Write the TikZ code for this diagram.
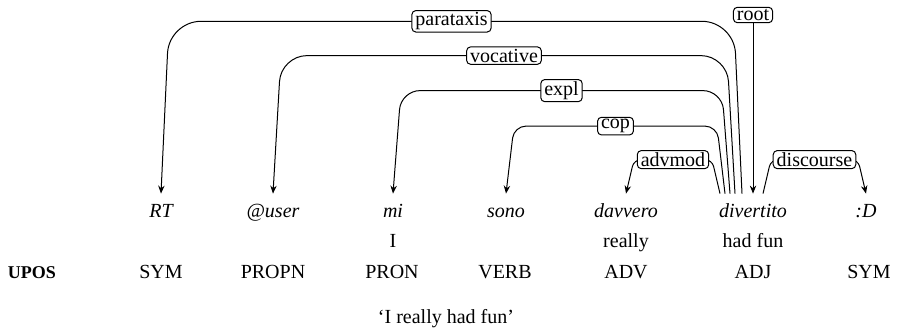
\documentclass[tikz,border=0pt]{standalone}
\usepackage{fontspec}
\setmainfont{Liberation Serif}
\usepackage{tikz}
\usetikzlibrary{calc, arrows.meta}
\tikzstyle{word}=[anchor=base, inner sep=0pt, text height=11.5pt, font=\itshape]
\tikzstyle{gloss}=[anchor=base, inner sep=0pt]
\tikzstyle{dep}=[draw, line width=0.5pt, -{Stealth[length=4pt,width=3.2pt]}]
\tikzstyle{lab}=[draw, fill=white, rounded corners=2pt, inner xsep=1.75pt, inner ysep=1pt, line width=0.5pt]

\begin{document}
\begin{tikzpicture}[x=0.5pt, y=-0.5pt]
		\useasboundingbox (0,0) rectangle (899,333);
		% Draw the words
		\foreach \name / \x / \w in {1/161/RT, 2/273/@user, 3/393/mi, 4/506/sono, 5/626/davvero, 6/753/divertito, 7/866/:D}
		\node[word] (W-\name) at (\x, 217) {\w};

		% Glosses
		\node[gloss] (G-3) at (393, 247) {I};
		\node[gloss] (G-5) at (626, 247) {really};
		\node[gloss] (G-6) at (753, 247) {had fun};

		% Draw the tags
		\node[gloss, font=\fontsize{9}{10}\selectfont\bfseries] (upos) at (32, 278) {UPOS};
		\foreach \name / \x / \t in {1/161/SYM, 2/273/PROPN, 3/392/PRON, 4/505/VERB, 5/626/ADV, 6/753/ADJ, 7/869/SYM}
		\node[gloss] (P-\name) at (\x, 278) {\t};

		% Translation
		\node[gloss] (trans) at (446, 323) {`I really had fun'};

		% Connect the head with its dependents
		\foreach \lab / \ho / \dep / \sl / \ly / \r in {parataxis/-11/1/-8/21.7/16, vocative/-18/2/-8/56/13, expl/-23/3/-8/91/9.5, cop/-28/4/-8/126.5/6, advmod/-33/5/-8/160/3.5, discourse/10/7/8/160/3.5}
		{
		\coordinate (s-\lab) at ($(W-6.north)+(\ho,0)$);
		\draw[dep, rounded corners=\r pt] (s-\lab) -- ++(\sl, {\ly-194}) -- node[lab] (L-\lab) {\lab} ($(W-\dep.north)+({-1*\sl}, {\ly-194})$) -- (W-\dep.north);
		}

		% Root
		\node[lab] (L-root) at (753, 15) {root};
		\draw[dep] (L-root) -- (W-6.north);
	\end{tikzpicture}
\end{document}
